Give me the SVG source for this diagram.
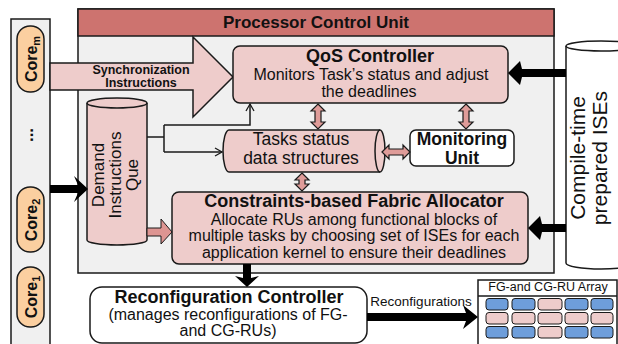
<svg xmlns="http://www.w3.org/2000/svg" width="618" height="344" viewBox="0 0 618 344">
<style>
text{font-family:"Liberation Sans",Arial,sans-serif;fill:#111}
.b{font-weight:bold}
.st{stroke:#1a1a1a;stroke-width:1.5}
.pink{fill:#eecccb}
.blk{fill:#000}
.dbl{fill:#df9c99;stroke:#1a1a1a;stroke-width:1.2}
.thin{fill:none;stroke:#1a1a1a;stroke-width:1.5}
.core{fill:#fbcfa0;stroke:#1a1a1a;stroke-width:1.5}
.blue{fill:#6e9edb;stroke:#1a1a1a;stroke-width:1}
.pc{fill:#eecccb;stroke:#1a1a1a;stroke-width:1}
</style>
<defs>
<marker id="open" markerWidth="10" markerHeight="10" refX="8" refY="5" orient="auto" markerUnits="userSpaceOnUse">
<path d="M1,1 L8,5 L1,9" fill="none" stroke="#1a1a1a" stroke-width="1.3"/>
</marker>
</defs>
<rect width="618" height="344" fill="#fff"/>

<g id="cores-bar">
<rect x="11" y="19" width="39" height="335" fill="#f0f0f0" class="st"/>
</g>

<g id="pcu">
<rect x="78" y="9" width="476" height="264" fill="#f0f0f0" class="st"/>
<rect x="78" y="9" width="476" height="27" fill="#cd736f" class="st"/>
<text x="316" y="28" class="b" font-size="17" text-anchor="middle">Processor Control Unit</text>
</g>

<g id="core-m">
<rect x="17" y="26" width="27" height="66" rx="13" class="core"/>
<text transform="translate(36.5,59) rotate(-90)" class="b" font-size="16" text-anchor="middle">Core<tspan font-size="11" dy="3">m</tspan></text>
</g>
<g id="dots">
<text transform="translate(33,135) rotate(-90)" class="b" font-size="17" text-anchor="middle">...</text>
</g>
<g id="core-2">
<rect x="17" y="187" width="27" height="65" rx="13" class="core"/>
<text transform="translate(36.5,220) rotate(-90)" class="b" font-size="16" text-anchor="middle">Core<tspan font-size="11" dy="3">2</tspan></text>
</g>
<g id="core-1">
<rect x="17" y="267" width="27" height="60" rx="13" class="core"/>
<text transform="translate(36.5,297) rotate(-90)" class="b" font-size="16" text-anchor="middle">Core<tspan font-size="11" dy="3">1</tspan></text>
</g>

<g id="sync">
<polygon points="50,63 193,63 193,37 233,77 193,117 193,90 50,90" class="pink st"/>
<text x="141" y="73.5" class="b" font-size="12.5" text-anchor="middle">Synchronization</text>
<text x="141" y="87" class="b" font-size="12.5" text-anchor="middle">Instructions</text>
</g>

<g id="qos">
<rect x="233" y="46" width="275" height="57" rx="7" class="pink st"/>
<text x="370" y="62" class="b" font-size="18" text-anchor="middle">QoS Controller</text>
<text x="371" y="80" font-size="16" text-anchor="middle">Monitors Task’s status and adjust</text>
<text x="369" y="97" font-size="16" text-anchor="middle">the deadlines</text>
</g>

<g id="demand">
<path d="M87,103 A30,5 0 0,1 147,103 L147,240 A30,5 0 0,1 87,240 Z" class="pink st"/>
<path d="M87,103 A30,5 0 0,0 147,103" class="thin"/>
<text transform="translate(117,175) rotate(-90)" font-size="17" text-anchor="middle"><tspan x="0" y="-13">Demand</tspan><tspan x="0" y="4">Instructions</tspan><tspan x="0" y="21">Que</tspan></text>
</g>

<g id="tasks">
<path d="M229,130 L380,130 A5,21 0 0,1 380,172 L229,172 A6,21 0 0,1 229,130 Z" class="pink st"/>
<path d="M380,130 A5,21 0 0,0 380,172" class="thin"/>
<text x="301" y="145" font-size="17.5" text-anchor="middle">Tasks status</text>
<text x="301" y="164" font-size="17.5" text-anchor="middle">data structures</text>
</g>

<g id="monitoring">
<rect x="410" y="130" width="104" height="36" rx="6" fill="#fff" class="st"/>
<text x="462" y="145" class="b" font-size="17.5" text-anchor="middle">Monitoring</text>
<text x="462" y="164" class="b" font-size="17.5" text-anchor="middle">Unit</text>
</g>

<g id="allocator">
<rect x="172" y="192" width="356" height="72" rx="7" class="pink st"/>
<text x="354" y="207" class="b" font-size="18" text-anchor="middle">Constraints-based Fabric Allocator</text>
<text x="354" y="225" font-size="16" text-anchor="middle">Allocate RUs among functional blocks of</text>
<text x="354" y="241" font-size="16" text-anchor="middle">multiple tasks by choosing set of ISEs for each</text>
<text x="354" y="258" font-size="16" text-anchor="middle">application kernel to ensure their deadlines</text>
</g>

<g id="compile">
<path d="M566,46 A35,5 0 0,1 636,46 L636,263 A35,6 0 0,1 566,263 Z" fill="#fff" class="st"/>
<path d="M566,46 A35,5 0 0,0 636,46" class="thin"/>
<text transform="translate(596,158) rotate(-90)" font-size="21" text-anchor="middle"><tspan x="0" y="-11">Compile-time</tspan><tspan x="0" y="11">prepared ISEs</tspan></text>
</g>

<g id="reconfig">
<rect x="90" y="287" width="277" height="56" rx="12" fill="#fff" class="st"/>
<text x="229" y="303" class="b" font-size="18" text-anchor="middle">Reconfiguration Controller</text>
<text x="228" y="320" font-size="16" text-anchor="middle">(manages reconfigurations of FG-</text>
<text x="228" y="336" font-size="16" text-anchor="middle">and CG-RUs)</text>
</g>

<g id="ru-array">
<rect x="478" y="280" width="139" height="70" fill="#fff" class="st"/>
<line x1="478" y1="296" x2="617" y2="296" class="thin"/>
<text x="548" y="291" font-size="12.5" text-anchor="middle">FG-and CG-RU Array</text>
<rect x="486" y="298.5" width="22" height="11.5" rx="3" class="blue"/>
<rect x="512" y="298.5" width="23" height="11.5" rx="3" class="blue"/>
<rect x="538" y="298.5" width="24" height="11.5" rx="3" class="pc"/>
<rect x="565" y="298.5" width="23" height="11.5" rx="3" class="blue"/>
<rect x="591" y="298.5" width="22" height="11.5" rx="3" class="blue"/>
<rect x="486" y="312.5" width="22" height="11.5" rx="3" class="pc"/>
<rect x="512" y="312.5" width="23" height="11.5" rx="3" class="pc"/>
<rect x="538" y="312.5" width="24" height="11.5" rx="3" class="pc"/>
<rect x="565" y="312.5" width="23" height="11.5" rx="3" class="pc"/>
<rect x="591" y="312.5" width="22" height="11.5" rx="3" class="pc"/>
<rect x="486" y="326.5" width="22" height="11.5" rx="3" class="blue"/>
<rect x="512" y="326.5" width="23" height="11.5" rx="3" class="blue"/>
<rect x="538" y="326.5" width="24" height="11.5" rx="3" class="pc"/>
<rect x="565" y="326.5" width="23" height="11.5" rx="3" class="blue"/>
<rect x="591" y="326.5" width="22" height="11.5" rx="3" class="blue"/>
</g>

<g id="connectors">
<path d="M147,137 H164" class="thin"/>
<path d="M164,125 V152" class="thin"/>
<path d="M164,125 H250 V104" class="thin" marker-end="url(#open)"/>
<path d="M164,152 H222" class="thin" marker-end="url(#open)"/>
<polygon points="318,104 325,111 321,111 321,122 325,122 318,129 311,122 315,122 315,111 311,111" class="dbl"/>
<polygon points="466,104 473,111 469,111 469,122 473,122 466,129 459,122 463,122 463,111 459,111" class="dbl"/>
<polygon points="302,173 309,180 305,180 305,184 309,184 302,191 295,184 299,184 299,180 295,180" class="dbl"/>
<polygon points="382,152 389,145 389,149 403,149 403,145 410,152 403,159 403,155 389,155 389,159" class="dbl"/>
<polygon points="147,228 161,228 161,219 172,232 161,244 161,236 147,236" fill="#dd9592" stroke="#1a1a1a" stroke-width="1"/>
<polygon points="50,185 78,185 74,176 88,189 74,202 78,193 50,193" class="blk"/>
<polygon points="566,69 522,69 520,61 508,73 520,85 522,77 566,77" class="blk"/>
<polygon points="566,224 542,224 540,216 528,228 540,240 542,232 566,232" class="blk"/>
<polygon points="243,264 251,264 251,278 259,276 247,287 235,276 243,278" class="blk"/>
<polygon points="367,313 466,313 463,305 478,317 463,329 466,321 367,321" class="blk"/>
<text x="421" y="306" font-size="13.5" text-anchor="middle">Reconfigurations</text>
</g>
</svg>
